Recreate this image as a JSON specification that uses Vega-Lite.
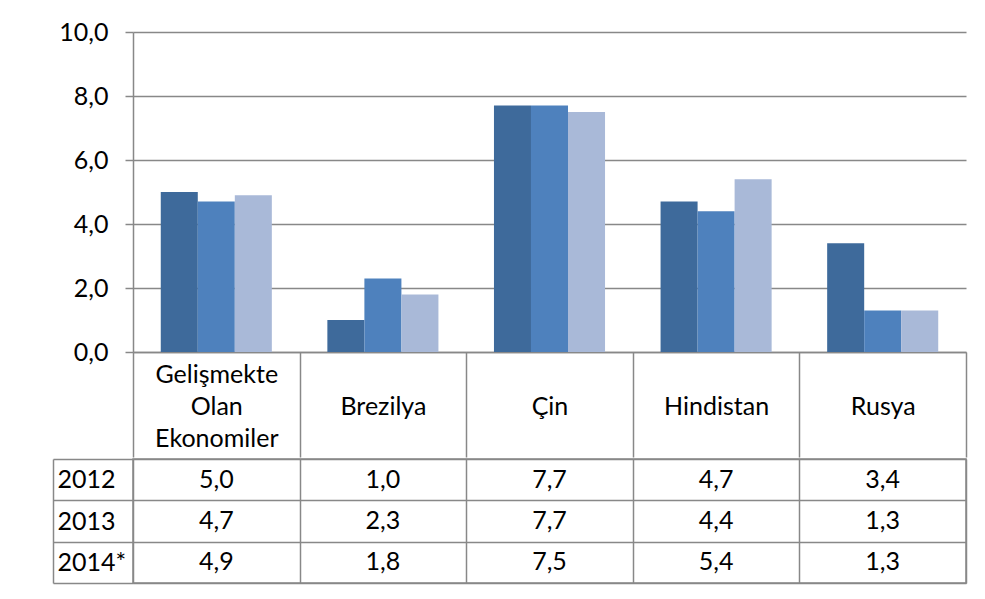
{
  "$schema": "https://vega.github.io/schema/vega-lite/v6.json",
  "padding": {"left": 51, "top": 20, "right": 10, "bottom": 10},
  "background": "white",
  "spacing": -12,
  "config": {
    "locale": {"number": {"decimal": ",", "thousands": ".", "grouping": [3], "currency": ["", " TL"]}},
    "font": "Lato",
    "axis": {"labelFont": "Lato", "labelFontSize": 25, "labelColor": "#000000", "gridColor": "#888888", "gridWidth": 1.5, "tickColor": "#888888", "tickWidth": 1.5, "domainColor": "#888888", "domainWidth": 1.5}
  },
  "datasets": {
    "growth": [
      {"country": "Gelişmekte Olan Ekonomiler", "year": "2012", "value": 5.0},
      {"country": "Gelişmekte Olan Ekonomiler", "year": "2013", "value": 4.7},
      {"country": "Gelişmekte Olan Ekonomiler", "year": "2014*", "value": 4.9},
      {"country": "Brezilya", "year": "2012", "value": 1.0},
      {"country": "Brezilya", "year": "2013", "value": 2.3},
      {"country": "Brezilya", "year": "2014*", "value": 1.8},
      {"country": "Çin", "year": "2012", "value": 7.7},
      {"country": "Çin", "year": "2013", "value": 7.7},
      {"country": "Çin", "year": "2014*", "value": 7.5},
      {"country": "Hindistan", "year": "2012", "value": 4.7},
      {"country": "Hindistan", "year": "2013", "value": 4.4},
      {"country": "Hindistan", "year": "2014*", "value": 5.4},
      {"country": "Rusya", "year": "2012", "value": 3.4},
      {"country": "Rusya", "year": "2013", "value": 1.3},
      {"country": "Rusya", "year": "2014*", "value": 1.3}
    ]
  },
  "vconcat": [
    {
      "width": 833,
      "height": 320,
      "view": {"stroke": null},
      "data": {"name": "growth"},
      "mark": {"type": "bar"},
      "encoding": {
        "x": {
          "field": "country", "type": "nominal", "sort": null,
          "scale": {"paddingInner": 0, "paddingOuter": 0},
          "axis": {"title": null, "orient": "bottom", "tickBand": "extent", "tickSize": 105, "labelAngle": 0, "labelBaseline": "middle", "labelPadding": -83, "labelExpr": "length(split(datum.label, ' ')) > 1 ? split(datum.label, ' ') : ['', datum.label]", "labelLineHeight": 32, "grid": false}
        },
        "xOffset": {"field": "year", "type": "nominal", "sort": null, "scale": {"paddingInner": 0, "paddingOuter": 0.75}},
        "y": {
          "field": "value", "type": "quantitative",
          "scale": {"domain": [0, 10], "nice": false},
          "axis": {"title": null, "values": [0, 2, 4, 6, 8, 10], "format": ".1f", "tickSize": 8, "labelPadding": 17, "grid": true}
        },
        "color": {
          "field": "year", "type": "nominal", "sort": null,
          "scale": {"domain": ["2012", "2013", "2014*"], "range": ["#3E6A9B", "#4E81BD", "#A9B9D8"]},
          "legend": null
        }
      }
    },
    {
      "width": 833,
      "height": 124,
      "view": {"stroke": "#888888", "strokeWidth": 1.5},
      "data": {"name": "growth"},
      "layer": [
        {
          "mark": {"type": "text", "fontSize": 25, "font": "Lato", "color": "#000000"},
          "encoding": {
            "x": {
              "field": "country", "type": "nominal", "sort": null,
              "scale": {"paddingInner": 0, "paddingOuter": 0},
              "axis": {"title": null, "labels": false, "ticks": false, "domain": false, "grid": true, "tickBand": "extent"}
            },
            "y": {
              "field": "year", "type": "nominal", "sort": null,
              "scale": {"paddingInner": 0, "paddingOuter": 0},
              "axis": {"title": null, "grid": true, "tickBand": "extent", "tickSize": 80, "labelAlign": "left", "labelPadding": -4, "domain": false}
            },
            "text": {"field": "value", "type": "quantitative", "format": ".1f"}
          }
        },
        {
          "mark": {"type": "text", "opacity": 0},
          "encoding": {
            "y": {
              "field": "year", "type": "nominal", "sort": null,
              "axis": {"title": null, "orient": "left", "offset": 80, "labels": false, "ticks": false, "grid": false, "domain": true}
            },
            "text": {"field": "value", "type": "quantitative"}
          }
        }
      ],
      "resolve": {"axis": {"y": "independent"}}
    }
  ]
}
